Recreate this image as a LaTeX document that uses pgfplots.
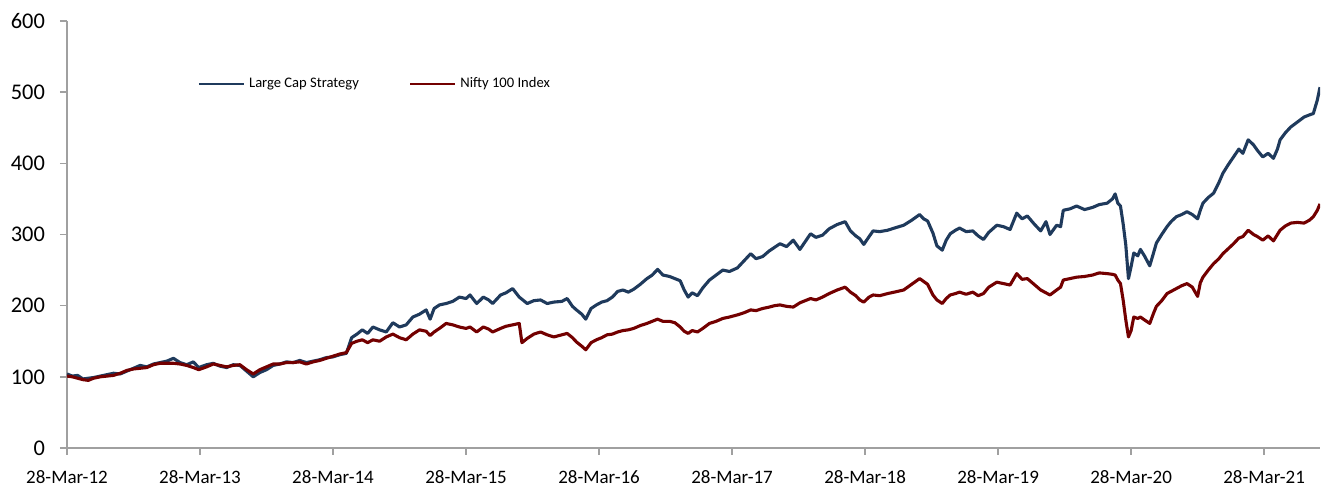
\documentclass[border=0pt]{standalone}
\usepackage{pgfplots}
\pgfplotsset{compat=1.18}
\usepackage{fontspec}
\setmainfont{Carlito}
\definecolor{lcblue}{HTML}{1F3A5C}
\definecolor{nfred}{HTML}{730000}
\definecolor{axgray}{HTML}{A0A0A0}
\begin{document}
\begin{tikzpicture}
\begin{axis}[
  name=ax,
  scale only axis,
  width=626.5pt, height=213.5pt,
  xmin=0, xmax=9.42, ymin=0, ymax=600,
  axis x line*=bottom, axis y line*=left,
  axis line style={axgray, line width=0.8pt},
  tick style={axgray, line width=0.8pt},
  tick align=outside,
  major tick length=3.5pt,
  xtick={0,1,2,3,4,5,6,7,8,9},
  xticklabels={28-Mar-12,28-Mar-13,28-Mar-14,28-Mar-15,28-Mar-16,28-Mar-17,28-Mar-18,28-Mar-19,28-Mar-20,28-Mar-21},
  ytick={0,100,200,300,400,500,600},
  /pgf/number format/assume math mode=true,
  xticklabel style={font=\fontsize{9.5}{11}\selectfont, yshift=-4pt},
  yticklabel style={font=\fontsize{11.2}{13}\selectfont, xshift=-4pt},
  legend columns=2,
  legend style={draw=none, fill=none, at={(rel axis cs:0.104,0.852)}, anchor=west,
    font=\fontsize{7.3}{9}\selectfont, inner sep=0pt,
    /tikz/every even column/.append style={column sep=23pt}},
  legend cell align=left,
  legend image code/.code={\draw[#1, line width=1.2pt] (0pt,0pt) -- (22.5pt,0pt);},
]
\addplot[lcblue, line width=1.55pt, line join=round] coordinates {
(0.00,104)(0.04,101)(0.08,102)(0.12,97)(0.16,98)(0.20,99)(0.25,101)(0.30,103)(0.35,105)(0.40,104)
(0.45,108)(0.50,112)(0.55,116)(0.60,114)(0.65,118)(0.70,120)(0.75,122)(0.80,126)(0.85,120)(0.90,117)
(0.95,121)(0.99,113)(1.05,117)(1.10,119)(1.15,115)(1.20,113)(1.25,117)(1.30,116)(1.35,108)(1.40,100)
(1.45,106)(1.50,110)(1.55,116)(1.60,118)(1.65,121)(1.70,120)(1.75,123)(1.80,120)(1.85,122)(1.90,124)
(1.95,127)(2.00,128)(2.05,131)(2.10,133)(2.14,155)(2.18,160)(2.22,166)(2.26,161)(2.30,170)(2.35,166)
(2.40,163)(2.45,176)(2.50,170)(2.55,173)(2.60,184)(2.65,188)(2.70,194)(2.73,181)(2.76,196)(2.80,201)
(2.85,203)(2.90,206)(2.95,212)(3.00,210)(3.03,215)(3.08,203)(3.13,212)(3.17,208)(3.20,203)(3.26,215)
(3.30,218)(3.35,224)(3.40,212)(3.46,203)(3.51,207)(3.56,208)(3.61,203)(3.66,205)(3.72,206)(3.76,210)
(3.80,199)(3.83,194)(3.87,188)(3.90,181)(3.94,196)(3.98,201)(4.02,205)(4.06,207)(4.10,212)(4.14,220)
(4.18,222)(4.22,219)(4.26,223)(4.31,230)(4.36,238)(4.40,243)(4.44,251)(4.48,243)(4.53,241)(4.57,238)
(4.61,235)(4.64,222)(4.67,212)(4.70,218)(4.74,214)(4.78,225)(4.83,236)(4.88,243)(4.93,250)(4.98,248)
(5.04,253)(5.09,263)(5.14,273)(5.18,266)(5.23,269)(5.28,277)(5.32,282)(5.36,287)(5.41,283)(5.46,292)
(5.51,279)(5.55,290)(5.59,301)(5.63,296)(5.68,299)(5.73,308)(5.79,314)(5.85,318)(5.89,305)(5.93,298)
(5.96,294)(5.99,286)(6.03,297)(6.06,305)(6.11,304)(6.17,306)(6.22,309)(6.29,313)(6.35,320)(6.41,328)
(6.44,322)(6.47,319)(6.51,302)(6.54,284)(6.58,278)(6.61,292)(6.64,301)(6.68,306)(6.71,309)(6.76,304)
(6.81,305)(6.85,298)(6.89,293)(6.93,303)(6.99,313)(7.04,311)(7.09,307)(7.14,330)(7.18,322)(7.22,326)
(7.27,315)(7.32,305)(7.36,318)(7.39,300)(7.44,313)(7.47,311)(7.49,334)(7.54,336)(7.59,340)(7.65,335)
(7.71,338)(7.76,342)(7.82,344)(7.86,350)(7.88,357)(7.90,344)(7.92,340)(7.94,315)(7.96,285)(7.98,238)
(8.00,255)(8.02,274)(8.05,270)(8.07,279)(8.10,270)(8.14,256)(8.17,275)(8.19,288)(8.23,300)(8.27,311)
(8.30,318)(8.34,325)(8.38,328)(8.42,332)(8.46,328)(8.50,322)(8.52,334)(8.54,344)(8.58,352)(8.62,358)
(8.66,373)(8.69,386)(8.73,398)(8.77,409)(8.81,420)(8.84,414)(8.88,433)(8.92,426)(8.95,418)(8.99,409)
(9.03,414)(9.07,407)(9.10,420)(9.12,433)(9.16,443)(9.20,451)(9.25,458)(9.30,465)(9.34,468)(9.37,470)
(9.40,489)(9.42,507)
};
\addlegendentry{Large Cap Strategy}
\addplot[nfred, line width=1.55pt, line join=round] coordinates {
(0.00,101)(0.04,100)(0.08,98)(0.12,96)(0.16,95)(0.20,98)(0.25,100)(0.30,101)(0.35,102)(0.40,105)
(0.45,109)(0.50,111)(0.55,112)(0.60,113)(0.65,117)(0.70,119)(0.75,119)(0.80,119)(0.85,118)(0.90,116)
(0.95,113)(0.99,110)(1.05,114)(1.10,118)(1.15,116)(1.20,114)(1.25,116)(1.30,117)(1.35,110)(1.40,104)
(1.45,110)(1.50,114)(1.55,118)(1.60,118)(1.65,120)(1.70,120)(1.75,121)(1.80,118)(1.85,121)(1.90,123)
(1.95,126)(2.00,129)(2.05,132)(2.10,134)(2.14,147)(2.18,150)(2.22,152)(2.26,148)(2.30,152)(2.35,150)
(2.40,156)(2.45,160)(2.50,155)(2.55,152)(2.60,160)(2.65,166)(2.70,164)(2.73,158)(2.76,163)(2.80,168)
(2.85,175)(2.90,173)(2.95,170)(3.00,168)(3.03,170)(3.08,163)(3.13,170)(3.17,167)(3.20,163)(3.26,168)
(3.30,171)(3.35,173)(3.40,175)(3.42,148)(3.46,154)(3.51,160)(3.56,163)(3.61,159)(3.66,156)(3.72,159)
(3.76,161)(3.80,155)(3.83,149)(3.87,143)(3.90,138)(3.94,148)(3.98,152)(4.02,155)(4.06,159)(4.10,160)
(4.14,163)(4.18,165)(4.22,166)(4.26,168)(4.31,172)(4.36,175)(4.40,178)(4.44,181)(4.48,178)(4.53,178)
(4.57,176)(4.61,170)(4.64,164)(4.67,161)(4.70,165)(4.74,163)(4.78,168)(4.83,175)(4.88,178)(4.93,182)
(4.98,184)(5.04,187)(5.09,190)(5.14,194)(5.18,193)(5.23,196)(5.28,198)(5.32,200)(5.36,201)(5.41,199)
(5.46,198)(5.51,204)(5.55,207)(5.59,210)(5.63,208)(5.68,212)(5.73,217)(5.79,222)(5.85,226)(5.89,219)
(5.93,214)(5.96,208)(5.99,205)(6.03,212)(6.06,215)(6.11,214)(6.17,217)(6.22,219)(6.29,222)(6.35,230)
(6.41,238)(6.44,234)(6.47,230)(6.51,215)(6.54,208)(6.58,203)(6.61,210)(6.64,215)(6.68,217)(6.71,219)
(6.76,216)(6.81,219)(6.85,214)(6.89,217)(6.93,226)(6.99,233)(7.04,231)(7.09,229)(7.14,245)(7.18,237)
(7.22,238)(7.27,230)(7.32,222)(7.36,218)(7.39,215)(7.44,222)(7.47,226)(7.49,236)(7.54,238)(7.59,240)
(7.65,241)(7.71,243)(7.76,246)(7.82,245)(7.86,244)(7.88,243)(7.90,236)(7.92,231)(7.94,208)(7.96,180)
(7.98,156)(8.00,165)(8.02,184)(8.05,182)(8.07,184)(8.10,180)(8.14,175)(8.17,190)(8.19,199)(8.23,207)
(8.27,217)(8.30,220)(8.34,224)(8.38,228)(8.42,231)(8.46,226)(8.50,213)(8.52,232)(8.54,240)(8.58,250)
(8.62,259)(8.66,266)(8.69,273)(8.73,280)(8.77,287)(8.81,295)(8.84,297)(8.88,306)(8.92,300)(8.95,297)
(8.99,292)(9.03,298)(9.07,291)(9.10,300)(9.12,306)(9.16,312)(9.20,316)(9.25,317)(9.30,316)(9.34,320)
(9.37,325)(9.40,334)(9.42,343)
};
\addlegendentry{Nifty 100 Index}
\end{axis}
\pgfresetboundingbox
\path ([shift={(-33.5pt,-19pt)}]ax.south west) rectangle ([shift={(1pt,10.5pt)}]ax.north east);
\end{tikzpicture}
\end{document}
